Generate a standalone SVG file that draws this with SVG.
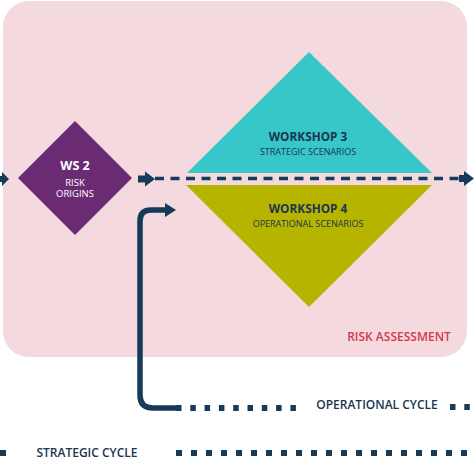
<svg xmlns="http://www.w3.org/2000/svg" width="474" height="474" viewBox="0 0 474 474">
<style>
.t{font-family:"Open Sans","Noto Sans","Liberation Sans",sans-serif;text-anchor:middle}
.b{font-weight:700}
.s{font-weight:600}
.navy{fill:#1B3550}
.ln{stroke:#163A5A;fill:none}
.ah{fill:#163A5A}
</style>
<rect width="474" height="474" fill="#ffffff"/>
<g id="risk-assessment">
<rect x="3" y="1" width="464" height="356" rx="26" fill="#F4D9DF"/>
<text class="t s" x="399" y="341" font-size="12" fill="#D33A4E">RISK ASSESSMENT</text>
</g>
<g id="ws2">
<polygon points="75,121 132,178 75,235 18,178" fill="#6A2B73"/>
<text class="t b" x="75" y="170" font-size="12.5" fill="#ffffff">WS 2</text>
<text class="t" x="75" y="185.5" font-size="9.5" fill="#ffffff">RISK</text>
<text class="t" x="75" y="197" font-size="9.5" fill="#ffffff">ORIGINS</text>
</g>
<g id="workshop3">
<polygon points="309,52 432,173 187,173" fill="#37C7C8"/>
<text class="t b navy" x="308" y="141" font-size="11.8">WORKSHOP 3</text>
<text class="t navy" x="308" y="155" font-size="9">STRATEGIC SCENARIOS</text>
</g>
<g id="workshop4">
<polygon points="186,185 432,185 309,307" fill="#B7B400"/>
<text class="t b navy" x="308" y="213" font-size="11.8">WORKSHOP 4</text>
<text class="t navy" x="308" y="227" font-size="9">OPERATIONAL SCENARIOS</text>
</g>
<g id="connectors">
<line class="ln" x1="0" y1="179" x2="4" y2="179" stroke-width="6"/>
<polygon class="ah" points="2,172 9,179 2,186"/>
<line class="ln" x1="138" y1="179" x2="148" y2="179" stroke-width="7"/>
<polygon class="ah" points="145,171.5 155,179 145,186.5"/>
<line class="ln" x1="155" y1="178.5" x2="460" y2="178.5" stroke-width="3.5" stroke-dasharray="9 6.5"/>
<line class="ln" x1="459" y1="178.5" x2="466" y2="178.5" stroke-width="7"/>
<polygon class="ah" points="464,171 474,178.5 464,186"/>
<path class="ln" d="M176,408 H153 Q140,408 140,395 V221 Q140,210 151,210 H166" stroke-width="5.5"/>
<polygon class="ah" points="165,203 176,210 165,217"/>
<line class="ln" x1="176" y1="408" x2="298" y2="408" stroke-width="6" stroke-dasharray="5.5 8.8"/>
<line class="ln" x1="450" y1="407" x2="474" y2="407" stroke-width="6" stroke-dasharray="5.5 8.8"/>
<line class="ln" x1="0" y1="453" x2="6" y2="453" stroke-width="6"/>
<line class="ln" x1="176" y1="453" x2="474" y2="453" stroke-width="6" stroke-dasharray="6 9"/>
</g>
<text class="t s navy" x="377" y="409" font-size="12">OPERATIONAL CYCLE</text>
<text class="t s navy" x="87" y="457" font-size="12">STRATEGIC CYCLE</text>
</svg>
